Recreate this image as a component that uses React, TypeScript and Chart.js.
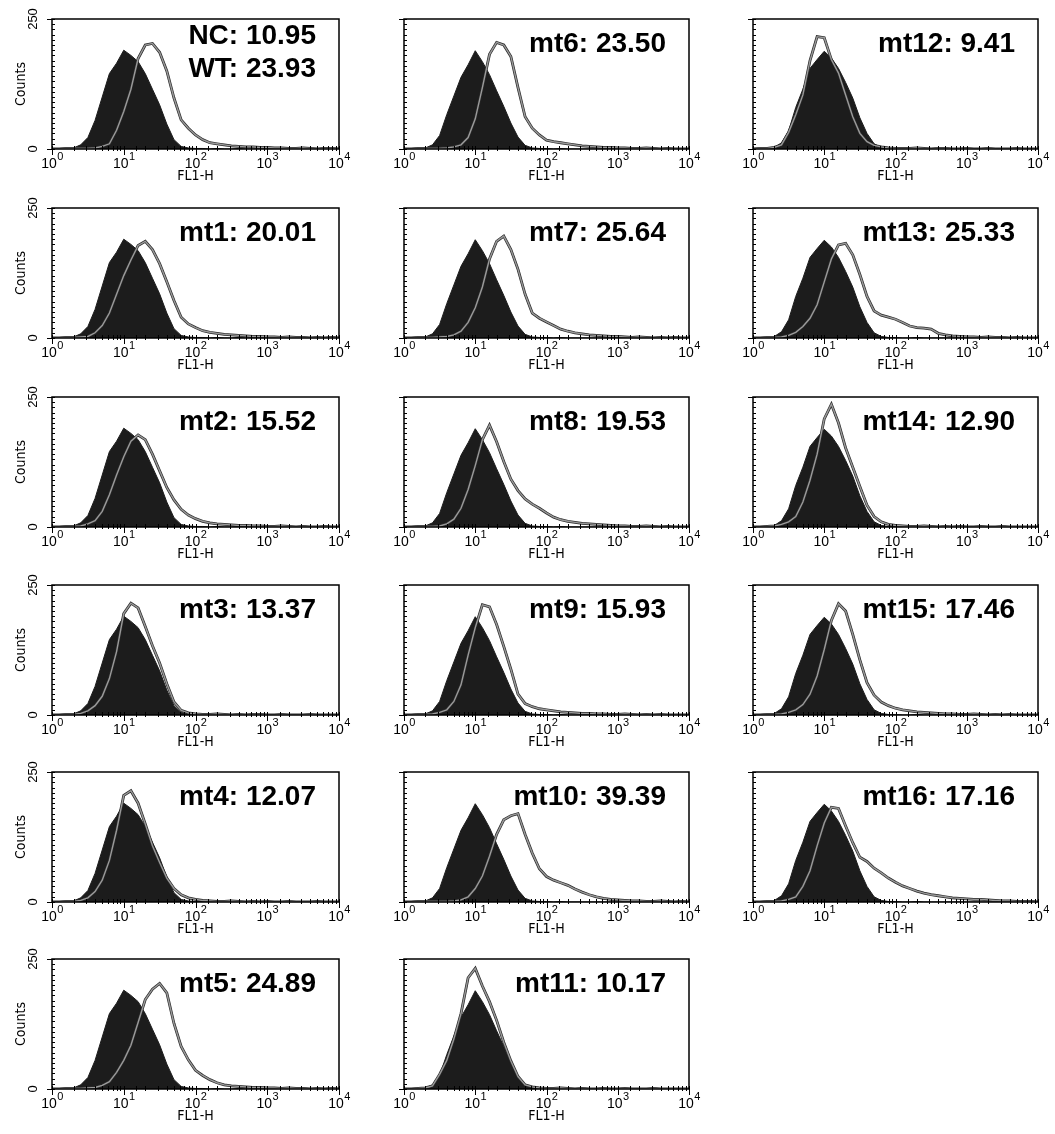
import React, { useEffect, useRef } from 'react';
import { Chart, registerables } from 'chart.js';

Chart.register(...registerables);

// Channel bins (FL1-H), 0.1 decade apart from 10^0 to 10^4
const bins = [1, 1.259, 1.585, 1.995, 2.512, 3.162, 3.981, 5.012, 6.31, 7.943,
  10, 12.59, 15.85, 19.95, 25.12, 31.62, 39.81, 50.12, 63.1, 79.43,
  100, 125.9, 158.5, 199.5, 251.2, 316.2, 398.1, 501.2, 631, 794.3,
  1000, 1259, 1585, 1995, 2512, 3162, 3981, 5012, 6310, 7943, 10000];

// x tick labels: base "10" with a superscript exponent
const xTickBase = '10';
const xTickExponents = ['0', '1', '2', '3', '4'];
const yTickValues = [0, 250];

// Negative control (black filled) histograms, one per column of panels
const ncCol1 = [0, 0, 1, 2, 8, 22, 55, 100, 145, 165, 190, 180, 168, 145, 115, 85, 48, 18, 5, 2, 1, 1, 0, 1, 0, 0, 1, 0, 0, 0, 0, 0, 0, 0, 0, 0, 0, 0, 0, 0, 0];
const ncCol2 = [0, 0, 1, 2, 8, 26, 66, 102, 138, 162, 189, 168, 143, 112, 82, 50, 23, 7, 2, 1, 1, 0, 1, 0, 0, 0, 0, 0, 0, 0, 0, 0, 0, 0, 0, 0, 0, 0, 0, 0, 0];
const ncCol3 = [0, 1, 1, 3, 12, 35, 80, 115, 155, 172, 188, 175, 155, 128, 98, 60, 30, 10, 3, 1, 1, 0, 0, 1, 0, 0, 0, 0, 0, 0, 0, 0, 0, 0, 0, 0, 0, 0, 0, 0, 0];

// Sample (outlined) histograms
const wt = [0, 0, 1, 1, 1, 1, 2, 5, 10, 36, 72, 115, 174, 200, 203, 186, 150, 98, 56, 40, 27, 18, 12, 10, 8, 6, 5, 4, 4, 3, 3, 2, 2, 1, 1, 2, 1, 0, 1, 1, 0];
const mt1 = [0, 0, 1, 1, 2, 3, 10, 24, 48, 84, 120, 150, 178, 186, 170, 143, 108, 72, 40, 27, 20, 14, 11, 9, 7, 6, 5, 4, 3, 3, 2, 2, 1, 2, 1, 1, 0, 1, 0, 1, 0];
const mt2 = [0, 0, 1, 1, 2, 6, 12, 30, 62, 100, 135, 165, 177, 168, 140, 108, 76, 52, 34, 23, 16, 11, 8, 6, 5, 4, 3, 3, 2, 2, 1, 1, 2, 1, 0, 1, 0, 0, 1, 0, 0];
const mt3 = [0, 0, 1, 1, 3, 8, 18, 36, 70, 122, 195, 215, 206, 170, 133, 100, 60, 25, 9, 4, 2, 1, 1, 2, 1, 0, 1, 0, 1, 1, 0, 0, 1, 0, 0, 0, 1, 0, 0, 0, 0];
const mt4 = [0, 0, 1, 1, 3, 8, 20, 42, 80, 138, 205, 214, 190, 150, 108, 76, 46, 26, 14, 8, 5, 3, 2, 1, 1, 2, 1, 0, 1, 0, 1, 0, 0, 1, 0, 0, 0, 1, 0, 0, 0];
const mt5 = [0, 0, 1, 1, 1, 2, 3, 7, 14, 32, 55, 84, 128, 172, 192, 203, 185, 126, 82, 56, 36, 26, 18, 12, 8, 6, 5, 4, 3, 3, 2, 2, 1, 2, 1, 1, 0, 1, 0, 1, 0];
const mt6 = [0, 0, 1, 1, 1, 1, 2, 4, 8, 22, 58, 118, 182, 205, 200, 178, 118, 62, 40, 27, 17, 14, 12, 10, 8, 6, 5, 4, 3, 3, 2, 2, 1, 1, 2, 1, 0, 1, 0, 0, 0];
const mt7 = [0, 0, 1, 1, 1, 2, 3, 6, 13, 30, 58, 98, 152, 186, 196, 170, 132, 84, 48, 38, 31, 24, 17, 13, 10, 8, 6, 5, 4, 3, 3, 2, 1, 2, 1, 0, 1, 0, 1, 0, 0];
const mt8 = [0, 0, 1, 1, 1, 2, 6, 15, 36, 72, 118, 168, 196, 164, 126, 92, 70, 54, 44, 36, 27, 19, 14, 11, 9, 7, 6, 5, 4, 3, 2, 2, 1, 1, 2, 1, 0, 1, 0, 0, 0];
const mt9 = [0, 0, 1, 1, 2, 5, 10, 26, 58, 115, 168, 212, 208, 174, 132, 88, 40, 22, 16, 12, 10, 8, 6, 5, 4, 3, 3, 2, 2, 1, 1, 2, 1, 0, 1, 0, 1, 0, 0, 0, 0];
const mt10 = [0, 0, 1, 1, 1, 1, 1, 2, 4, 10, 26, 50, 88, 130, 158, 166, 170, 130, 94, 64, 49, 42, 37, 32, 25, 19, 14, 10, 7, 5, 4, 3, 2, 2, 1, 1, 2, 1, 0, 1, 0];
const mt11 = [0, 0, 1, 2, 6, 28, 55, 96, 145, 214, 232, 198, 168, 132, 90, 54, 24, 8, 4, 2, 1, 1, 2, 1, 0, 1, 0, 0, 1, 0, 0, 1, 0, 0, 0, 1, 0, 0, 0, 0, 0];
const mt12 = [0, 1, 1, 3, 8, 32, 66, 104, 170, 216, 214, 172, 146, 104, 62, 30, 14, 7, 4, 2, 1, 1, 1, 2, 1, 0, 1, 1, 0, 0, 1, 0, 0, 1, 0, 0, 0, 1, 0, 0, 0];
const mt13 = [0, 0, 1, 1, 2, 5, 11, 22, 38, 64, 108, 152, 179, 182, 160, 122, 80, 52, 44, 40, 36, 30, 23, 20, 19, 17, 9, 6, 4, 3, 2, 2, 1, 2, 1, 1, 0, 1, 0, 0, 0];
const mt14 = [0, 0, 1, 2, 5, 10, 20, 48, 90, 140, 208, 236, 200, 152, 115, 78, 42, 20, 10, 5, 3, 2, 1, 1, 2, 1, 0, 1, 0, 1, 0, 0, 1, 0, 0, 1, 0, 0, 0, 0, 0];
const mt15 = [0, 0, 1, 1, 2, 5, 10, 20, 40, 75, 126, 182, 214, 200, 155, 106, 62, 38, 25, 18, 13, 10, 8, 6, 5, 4, 3, 2, 2, 1, 1, 2, 1, 0, 1, 0, 1, 0, 0, 0, 0];
const mt16 = [0, 0, 1, 1, 2, 5, 10, 30, 60, 108, 152, 182, 180, 146, 114, 86, 78, 65, 56, 46, 38, 31, 26, 21, 17, 14, 12, 10, 8, 7, 6, 5, 5, 4, 3, 2, 2, 1, 1, 1, 0];

const ncName = 'NC';
const ncMean = 10.95;
const sampleNames = ['WT', 'mt1', 'mt2', 'mt3', 'mt4', 'mt5', 'mt6', 'mt7', 'mt8', 'mt9', 'mt10', 'mt11', 'mt12', 'mt13', 'mt14', 'mt15', 'mt16'];
const sampleMeans = [23.93, 20.01, 15.52, 13.37, 12.07, 24.89, 23.50, 25.64, 19.53, 15.93, 39.39, 10.17, 9.41, 25.33, 12.90, 17.46, 17.16];
const sampleSeries = [wt, mt1, mt2, mt3, mt4, mt5, mt6, mt7, mt8, mt9, mt10, mt11, mt12, mt13, mt14, mt15, mt16];
const ncSeries = [ncCol1, ncCol2, ncCol3];

// Layout (page pixels)
const panelCells = [
  [0, 0], [0, 1], [0, 2], [0, 3], [0, 4], [0, 5],
  [1, 0], [1, 1], [1, 2], [1, 3], [1, 4], [1, 5],
  [2, 0], [2, 1], [2, 2], [2, 3], [2, 4],
];
const colLeft = [52, 404, 753];
const colWidth = [287, 285, 285];
const rowTop = [19, 208, 397, 585, 772, 959];
const PLOT_H = 130;
const PAD_L = 52, PAD_R = 18, PAD_T = 14, PAD_B = 40;

const tickFont = "'Liberation Sans', Arial, sans-serif";
const narrowFont = "'Liberation Sans Narrow', 'DejaVu Sans Condensed', 'Liberation Sans', Arial, sans-serif";

const isDecade = (v: number) => Math.abs(Math.log10(v) - Math.round(Math.log10(v))) < 1e-6;

const frameTicks = {
  id: 'frameTicks',
  afterDraw(chart: any, _args: any, opts: any) {
    const { ctx, chartArea: a, scales } = chart;
    const xs = scales.x, ys = scales.y;
    ctx.save();
    ctx.strokeStyle = '#000';
    ctx.lineWidth = 1.5;
    ctx.strokeRect(a.left, a.top, a.right - a.left, a.bottom - a.top);
    ctx.lineWidth = 1;
    ctx.beginPath();
    xs.ticks.forEach((t: any) => {
      const px = Math.round(xs.getPixelForValue(t.value)) + 0.5;
      const major = isDecade(t.value);
      ctx.moveTo(px, a.bottom - 3);
      ctx.lineTo(px, a.bottom + (major ? 6 : 2));
    });
    for (let v = 0; v <= 250; v += 10) {
      const py = Math.round(ys.getPixelForValue(v)) + 0.5;
      ctx.moveTo(a.left, py);
      ctx.lineTo(a.left + 3, py);
    }
    yTickValues.forEach((v) => {
      const py = Math.round(ys.getPixelForValue(v)) + 0.5;
      ctx.moveTo(a.left - 5, py);
      ctx.lineTo(a.left, py);
    });
    ctx.stroke();

    // x tick labels 10^n with real superscripts
    ctx.fillStyle = '#000';
    ctx.textBaseline = 'alphabetic';
    ctx.textAlign = 'left';
    const baseFont = `14px ${tickFont}`;
    const expFont = `11px ${tickFont}`;
    xs.ticks.forEach((t: any) => {
      if (!isDecade(t.value)) return;
      const e = xTickExponents[Math.round(Math.log10(t.value))];
      const px = xs.getPixelForValue(t.value);
      ctx.font = baseFont;
      const w1 = ctx.measureText(xTickBase).width;
      ctx.font = expFont;
      const w2 = ctx.measureText(e).width;
      const x0 = px - (w1 + w2) / 2;
      ctx.font = baseFont;
      ctx.fillText(xTickBase, x0, a.bottom + 19);
      ctx.font = expFont;
      ctx.fillText(e, x0 + w1 + 0.5, a.bottom + 11);
    });

    ctx.font = "bold 28px 'Liberation Sans', Arial, sans-serif";
    ctx.textAlign = 'right';
    const lines: string[] = opts.lines || [];
    const base = lines.length > 1 ? [25, 58] : [33];
    lines.forEach((s, i) => ctx.fillText(s, a.right - 23, a.top + base[i]));
    ctx.restore();
  },
};

function Panel({ idx }: { idx: number }) {
  const ref = useRef<HTMLCanvasElement | null>(null);
  const [col, row] = panelCells[idx];
  const w = colWidth[col];
  const cw = PAD_L + w + PAD_R;
  const ch = PAD_T + PLOT_H + PAD_B;

  useEffect(() => {
    const nc = ncSeries[col];
    const sample = sampleSeries[idx];
    const lines = idx === 0
      ? [`${ncName}: ${ncMean.toFixed(2)}`, `${sampleNames[0]}: ${sampleMeans[0].toFixed(2)}`]
      : [`${sampleNames[idx]}: ${sampleMeans[idx].toFixed(2)}`];
    const samplePoints = bins.map((x, i) => ({ x, y: sample[i] }));
    const chart = new Chart(ref.current as HTMLCanvasElement, {
      type: 'line',
      data: {
        datasets: [
          {
            label: sampleNames[idx],
            data: samplePoints,
            borderColor: '#9a9a9a',
            borderWidth: 1.4,
            pointRadius: 0,
            fill: false,
            tension: 0,
            order: 1,
          },
          {
            label: sampleNames[idx] + ' edge',
            data: samplePoints,
            borderColor: '#2a2a2a',
            borderWidth: 2.8,
            pointRadius: 0,
            fill: false,
            tension: 0,
            order: 2,
          },
          {
            label: ncName,
            data: bins.map((x, i) => ({ x, y: nc[i] })),
            borderColor: '#1c1c1c',
            backgroundColor: '#1c1c1c',
            borderWidth: 1,
            pointRadius: 0,
            fill: 'origin',
            tension: 0,
            order: 3,
          },
        ],
      },
      options: {
        responsive: false,
        animation: false,
        devicePixelRatio: 1,
        layout: { padding: { left: 0, right: PAD_R, top: PAD_T, bottom: 0 } },
        plugins: {
          legend: { display: false },
          tooltip: { enabled: false },
          frameTicks: { lines },
        } as any,
        scales: {
          x: {
            type: 'logarithmic',
            min: 1,
            max: 10000,
            afterFit: (s: any) => { s.height = PAD_B; s.paddingLeft = 0; s.paddingRight = 0; },
            grid: { display: false, drawTicks: false },
            border: { display: false },
            ticks: { display: false, autoSkip: false, maxRotation: 0, minRotation: 0 },
            title: {
              display: true,
              text: 'FL1-H',
              color: '#000',
              font: { family: narrowFont, size: 14 },
              padding: { top: 0, bottom: 4 },
            },
          },
          y: {
            min: 0,
            max: 250,
            afterFit: (s: any) => { s.width = PAD_L; s.paddingTop = 0; s.paddingBottom = 0; },
            grid: { display: false, drawTicks: false },
            border: { display: false },
            ticks: {
              stepSize: 250,
              display: col === 0,
              minRotation: 90,
              maxRotation: 90,
              crossAlign: 'center',
              padding: 8,
              color: '#000',
              font: { family: tickFont, size: 13 },
            },
            title: {
              display: col === 0,
              text: 'Counts',
              color: '#000',
              font: { family: narrowFont, size: 14 },
              padding: { top: 13, bottom: 0 },
            },
          },
        },
      } as any,
      plugins: [frameTicks as any],
    });
    return () => chart.destroy();
  }, []);

  return (
    <canvas
      ref={ref}
      width={cw}
      height={ch}
      style={{ position: 'absolute', left: colLeft[col] - PAD_L, top: rowTop[row] - PAD_T, width: cw, height: ch }}
    />
  );
}

export default function App() {
  return (
    <div style={{ position: 'absolute', left: 0, top: 0, width: 1055, height: 1134, background: '#fff', overflow: 'hidden' }}>
      {sampleNames.map((_, i) => <Panel key={i} idx={i} />)}
    </div>
  );
}
